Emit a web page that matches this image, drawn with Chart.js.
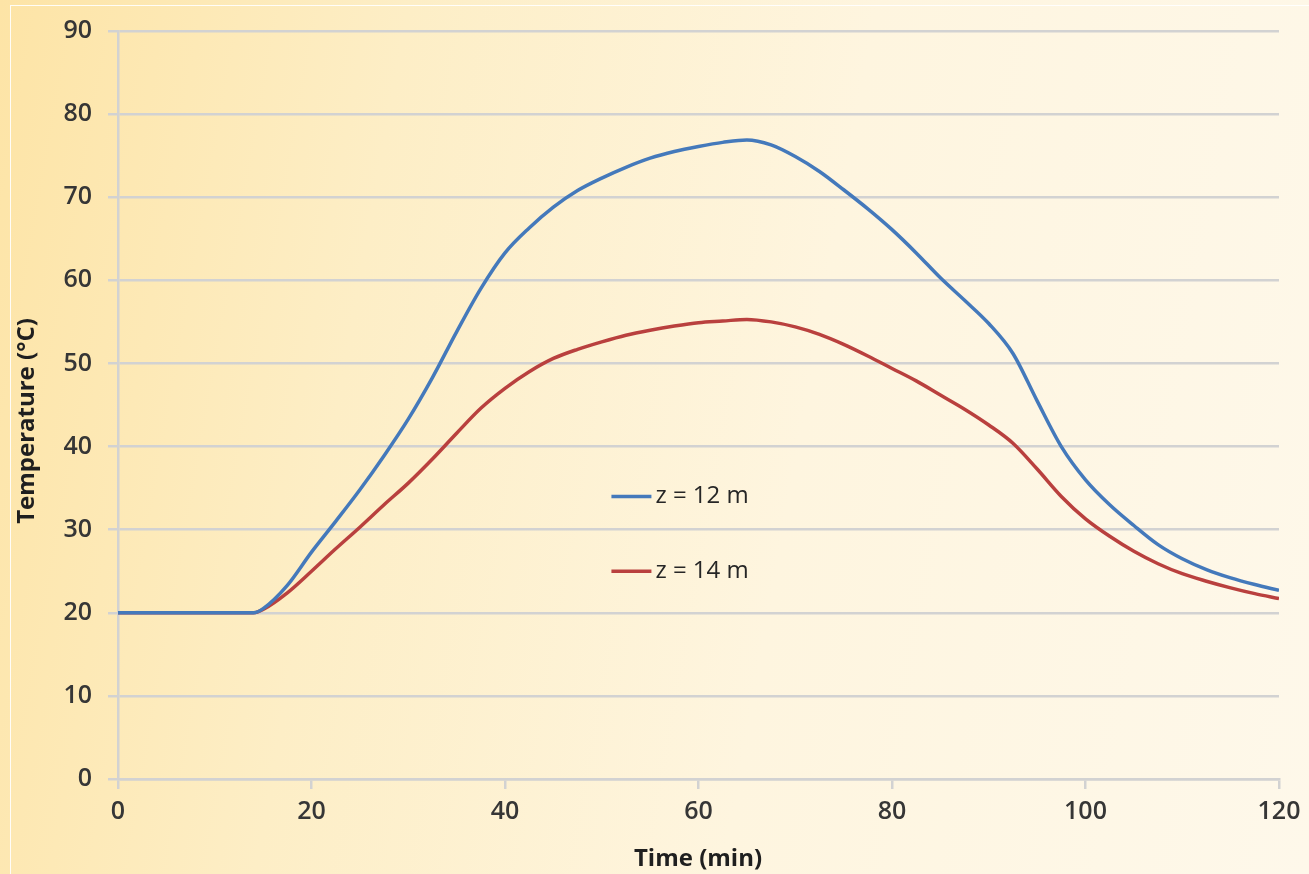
<!DOCTYPE html>
<html>
<head>
<meta charset="utf-8">
<script src="https://cdn.jsdelivr.net/npm/chart.js@4.4.1/dist/chart.umd.min.js"></script>
<style>
    html, body { margin: 0; padding: 0; }
    body {
        width: 1309px; height: 874px; overflow: hidden; position: relative;
        background: linear-gradient(100deg, #fde4a6 0%, #fdeec6 28%, #fef5df 60%, #fef8ea 100%);
    }
    #frame {
        position: absolute; left: 10px; top: 5px; width: 1320px; height: 900px;
        border: 1px solid rgba(255,255,255,0.9);
    }
    #wrap { position: absolute; left: 0; top: 0; width: 1309px; height: 874px; }
</style>
</head>
<body>
<div id="frame"></div>
<div id="wrap"><canvas id="tempChart" width="1309" height="874"></canvas></div>
<script>
document.addEventListener("DOMContentLoaded", function () {

    // Time (min) and temperature readings for both depths
    const times = [0, 5, 10, 14, 15, 17.5, 20, 22.5, 25, 27.5, 30, 32.5, 35, 37.5, 40, 42.5, 45, 47.5,
        50, 52.5, 55, 57.5, 60, 62.5, 65, 67.5, 70, 72.5, 75, 77.5, 80, 82.5, 85, 87.5, 90, 92.5,
        95, 97.5, 100, 102.5, 105, 107.5, 110, 112.5, 115, 117.5, 120];

    const tempZ12 = [20, 20, 20, 20, 20.5, 23.3, 27.3, 31, 34.8, 38.9, 43.3, 48.3, 53.8, 59, 63.3, 66.3, 68.8, 70.8,
        72.3, 73.6, 74.7, 75.5, 76.1, 76.6, 76.9, 76.3, 74.9, 73.1, 70.9, 68.6, 66.1, 63.3, 60.3, 57.6, 54.8, 51.2,
        45.5, 40, 36, 33, 30.5, 28.2, 26.5, 25.2, 24.2, 23.4, 22.7];

    const tempZ14 = [20, 20, 20, 20, 20.4, 22.4, 25, 27.7, 30.3, 33, 35.6, 38.5, 41.6, 44.6, 47, 49, 50.6, 51.7,
        52.6, 53.4, 54, 54.5, 54.9, 55.1, 55.3, 55, 54.4, 53.5, 52.3, 50.9, 49.4, 47.9, 46.2, 44.5, 42.6, 40.4,
        37.3, 34, 31.3, 29.2, 27.4, 25.9, 24.7, 23.8, 23, 22.3, 21.7];

    const seriesLabels = ["z = 12 m", "z = 14 m"];
    const xTicks = [0, 20, 40, 60, 80, 100, 120];
    const yTicks = [0, 10, 20, 30, 40, 50, 60, 70, 80, 90];

    const tickFont = { family: "'Open Sans', sans-serif", size: 25, weight: "600" };
    const gridColor = "#d2d2d2";

    // âœ… Legend drawn inside the plot, plus axis titles
    const insideLegend = {
        id: "insideLegend",
        afterDatasetsDraw(chart) {
            const { ctx } = chart;
            const xs = chart.scales.x, ys = chart.scales.y;
            const x0 = xs.getPixelForValue(51);
            const rows = [34, 25];
            ctx.save();
            chart.data.datasets.forEach((ds, i) => {
                const y = ys.getPixelForValue(rows[i]);
                ctx.strokeStyle = ds.borderColor;
                ctx.lineWidth = 3.5;
                ctx.beginPath();
                ctx.moveTo(x0, y);
                ctx.lineTo(x0 + 40, y);
                ctx.stroke();
                ctx.fillStyle = "#262626";
                ctx.font = "500 24px 'Open Sans', sans-serif";
                ctx.textBaseline = "middle";
                ctx.fillText(ds.label, x0 + 44, y);
            });

            ctx.fillStyle = "#1f1f1f";
            ctx.font = "bold 24px 'Open Sans', sans-serif";
            ctx.textAlign = "center";
            ctx.textBaseline = "middle";
            ctx.fillText("Time (min)", 698, 859);
            ctx.translate(27, 421);
            ctx.rotate(-Math.PI / 2);
            ctx.fillText("Temperature (°C)", 0, 0);
            ctx.restore();
        }
    };

    const ctx = document.getElementById("tempChart").getContext("2d");
    new Chart(ctx, {
        type: "line",
        data: {
            datasets: [
                {
                    label: seriesLabels[0],
                    data: times.map((t, i) => ({ x: t, y: tempZ12[i] })),
                    borderColor: "#4479bb",
                    borderWidth: 3.5,
                    pointRadius: 0,
                    cubicInterpolationMode: "monotone",
                    fill: false,
                },
                {
                    label: seriesLabels[1],
                    data: times.map((t, i) => ({ x: t, y: tempZ14[i] })),
                    borderColor: "#b9403e",
                    borderWidth: 3.5,
                    pointRadius: 0,
                    cubicInterpolationMode: "monotone",
                    fill: false,
                },
            ],
        },
        options: {
            responsive: false,
            animation: false,
            layout: { padding: { top: 28, right: 30, left: 0, bottom: 0 } },
            plugins: {
                legend: { display: false },
                tooltip: { enabled: false },
            },
            scales: {
                x: {
                    type: "linear",
                    min: 0,
                    max: 120,
                    afterBuildTicks: (scale) => { scale.ticks = xTicks.map(v => ({ value: v })); },
                    afterFit: (scale) => { scale.height = 95; },
                    grid: { display: true, drawOnChartArea: false, color: gridColor, lineWidth: 2.5, tickLength: 10 },
                    border: { color: gridColor, width: 2.5 },
                    ticks: { color: "#363636", font: tickFont, padding: 8, maxRotation: 0 },
                },
                y: {
                    min: 0,
                    max: 90,
                    afterBuildTicks: (scale) => { scale.ticks = yTicks.map(v => ({ value: v })); },
                    afterFit: (scale) => { scale.width = 118; },
                    grid: { color: gridColor, lineWidth: 2.5, tickLength: 10 },
                    border: { color: gridColor, width: 2.5 },
                    ticks: { color: "#363636", font: tickFont, padding: 16 },
                },
            },
        },
        plugins: [insideLegend],
    });
});
</script>
</body>
</html>
